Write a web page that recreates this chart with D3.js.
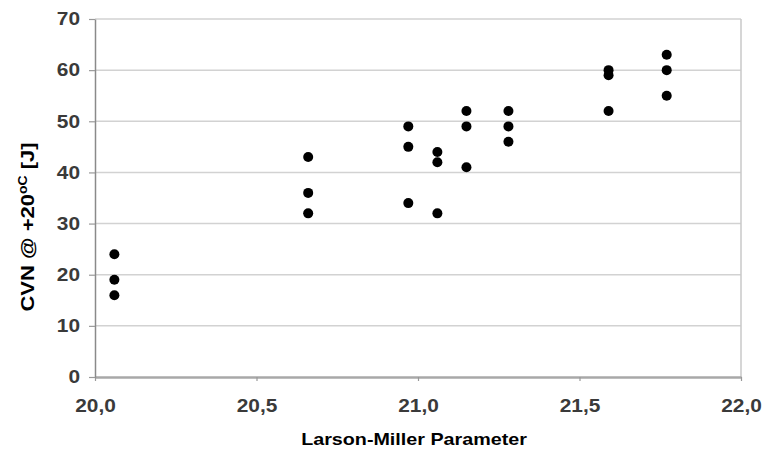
<!DOCTYPE html>
<html>
<head>
<meta charset="utf-8">
<script src="https://cdn.jsdelivr.net/npm/d3@7"></script>
<style>
  html, body { margin: 0; padding: 0; background: #fff; }
  svg { display: block; }
</style>
</head>
<body>
<svg id="chart" width="779" height="449"></svg>
<script>
// Data: Larson-Miller parameter vs CVN at +20°C
const lmp = [20.06, 20.06, 20.06,
             20.66, 20.66, 20.66,
             20.97, 20.97, 20.97,
             21.06, 21.06, 21.06,
             21.15, 21.15, 21.15,
             21.28, 21.28, 21.28,
             21.59, 21.59, 21.59,
             21.77, 21.77, 21.77];
const cvn = [24, 19, 16,
             43, 36, 32,
             49, 45, 34,
             44, 42, 32,
             52, 49, 41,
             52, 49, 46,
             60, 59, 52,
             63, 60, 55];
const xTicks = [20.0, 20.5, 21.0, 21.5, 22.0];
const yTicks = [0, 10, 20, 30, 40, 50, 60, 70];
const xTitle = "Larson-Miller Parameter";

const svg = d3.select("#chart");
const L = 95, R = 741, T = 19, B = 377;
const SX = 1.16; // horizontal text stretch seen in the reference

const x = d3.scaleLinear().domain([20, 22]).range([L, R]);
const y = d3.scaleLinear().domain([0, 70]).range([B, T]);

// gridlines
svg.append("g").selectAll("line").data(yTicks.filter(d => d > 0)).join("line")
  .attr("x1", L).attr("x2", R)
  .attr("y1", d => y(d)).attr("y2", d => y(d))
  .attr("stroke", "#d2d2d2").attr("stroke-width", 1.5);

// right border
svg.append("line").attr("x1", R).attr("x2", R).attr("y1", T).attr("y2", B)
  .attr("stroke", "#c8c8c8").attr("stroke-width", 1.5);

const fmt = d => d3.format(".1f")(d).replace(".", ",");

// x axis
const gx = svg.append("g").attr("transform", `translate(0,${B})`)
  .call(d3.axisBottom(x).tickValues(xTicks).tickSize(4).tickSizeOuter(0).tickFormat(fmt));
gx.select(".domain").attr("stroke", "#a8a8a8").attr("stroke-width", 2.5);
gx.selectAll(".tick line").attr("stroke", "#999").attr("stroke-width", 1.2);
gx.selectAll(".tick text")
  .attr("y", 0).attr("dy", null)
  .attr("transform", "translate(0,35) scale(" + SX + ",1)")
  .attr("font-family", "Liberation Sans, Arial, sans-serif")
  .attr("font-size", 18).attr("font-weight", "bold").attr("fill", "#3a3a3a");

// y axis
const gy = svg.append("g").attr("transform", `translate(${L},0)`)
  .call(d3.axisLeft(y).tickValues(yTicks).tickSize(6).tickSizeOuter(0));
gy.select(".domain").attr("stroke", "#8a8a8a").attr("stroke-width", 1.5);
gy.selectAll(".tick line").attr("stroke", "#999").attr("stroke-width", 1.2);
gy.selectAll(".tick text")
  .attr("x", 0)
  .attr("transform", "translate(-15,0) scale(" + SX + ",1)")
  .attr("font-family", "Liberation Sans, Arial, sans-serif")
  .attr("font-size", 18).attr("font-weight", "bold").attr("fill", "#3a3a3a");

// points
svg.append("g").selectAll("circle").data(lmp.map((v, i) => [v, cvn[i]])).join("circle")
  .attr("cx", d => x(d[0])).attr("cy", d => y(d[1]))
  .attr("r", 5).attr("fill", "#000");

// x title
svg.append("text")
  .attr("transform", `translate(414,445) scale(${SX},1)`)
  .attr("text-anchor", "middle")
  .attr("font-family", "Liberation Sans, Arial, sans-serif")
  .attr("font-size", 17).attr("font-weight", "bold").attr("fill", "#000")
  .text(xTitle);

// y title
const yt = svg.append("text")
  .attr("transform", `translate(34,227) scale(1,${SX}) rotate(-90)`)
  .attr("text-anchor", "middle")
  .attr("font-family", "Liberation Sans, Arial, sans-serif")
  .attr("font-size", 19).attr("font-weight", "bold").attr("fill", "#000");
yt.append("tspan").text("CVN @ +20");
yt.append("tspan").attr("font-size", 12).attr("dy", "-0.6em").text("oC");
yt.append("tspan").attr("dy", "0.4em").text(" [J]");
</script>
</body>
</html>
